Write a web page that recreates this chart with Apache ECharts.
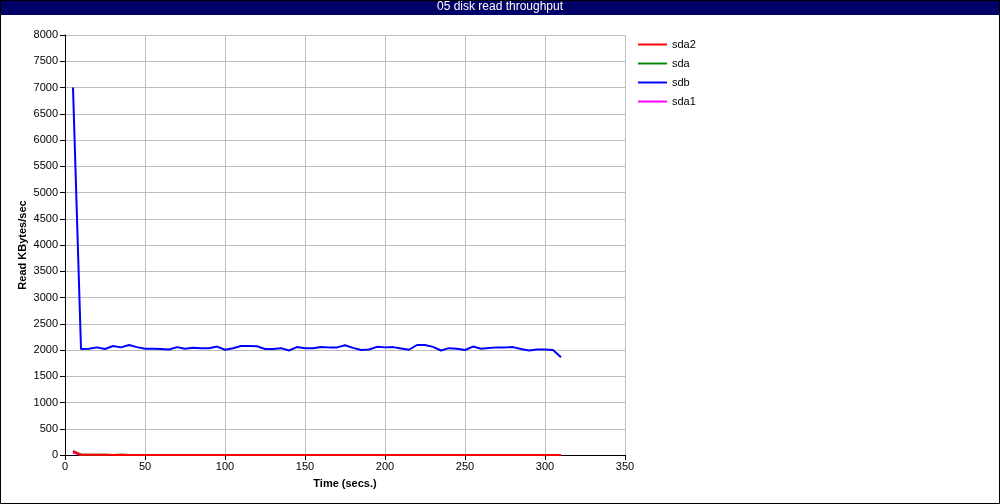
<!DOCTYPE html>
<html>
<head>
<meta charset="utf-8">
<script src="https://cdn.jsdelivr.net/npm/echarts@6/dist/echarts.min.js"></script>
<style>
html,body{margin:0;padding:0;background:#fff;}
#chart{width:1000px;height:504px;}
</style>
</head>
<body>
<div id="chart"></div>
<script>
const chartTitle = "05 disk read throughput";
const xAxisName = "Time (secs.)";
const yAxisName = "Read KBytes/sec";
const seriesNames = ["sda2", "sda", "sdb", "sda1"];
const seriesColors = ["#ff0000", "#008800", "#0000ff", "#ff00ff"];

const times = [5,10,15,20,25,30,35,40,45,50,55,60,65,70,75,80,85,90,95,100,105,110,115,120,125,130,135,140,145,150,155,160,165,170,175,180,185,190,195,200,205,210,215,220,225,230,235,240,245,250,255,260,265,270,275,280,285,290,295,300,305,310];

const sdb = [7000,2020,2025,2050,2020,2075,2050,2095,2055,2025,2025,2020,2010,2055,2025,2045,2035,2035,2065,2005,2035,2075,2075,2070,2020,2020,2035,1990,2055,2035,2035,2055,2050,2050,2090,2040,2000,2010,2060,2050,2055,2030,2005,2095,2095,2060,1990,2035,2025,2000,2065,2025,2040,2050,2050,2055,2020,1990,2010,2010,2000,1860];

const sda2 = [75,5,4,3,3,2,3,2,2,2,2,2,2,2,2,2,2,2,2,2,2,2,2,2,2,2,2,2,2,2,2,2,2,2,2,2,2,2,2,2,2,2,2,2,2,2,2,2,2,2,2,2,2,2,2,2,2,2,2,2,2,2];
const sda = [75,5,4,3,3,2,3,2,2,2,2,2,2,2,2,2,2,2,2,2,2,2,2,2,2,2,2,2,2,2,2,2,2,2,2,2,2,2,2,2,2,2,2,2,2,2,2,2,2,2,2,2,2,2,2,2,2,2,2,2,2,2];
const sda1 = [45,0,0,0,0,0,0,0,0,0,0,0,0,0,0,0,0,0,0,0,0,0,0,0,0,0,0,0,0,0,0,0,0,0,0,0,0,0,0,0,0,0,0,0,0,0,0,0,0,0,0,0,0,0,0,0,0,0,0,0,0,0];

const seriesValues = [sda2, sda, sdb, sda1];
const zOrder = [5, 3, 4, 2];

const chart = echarts.init(document.getElementById('chart'), null, {renderer: 'canvas'});
const font = 'Liberation Sans, Arial, sans-serif';

const option = {
  animation: false,
  backgroundColor: '#ffffff',
  textStyle: {fontFamily: font},
  graphic: [
    {type: 'rect', shape: {x: 0.5, y: 0.5, width: 999, height: 503}, style: {fill: 'none', stroke: '#000', lineWidth: 1}, z: 100},
    {type: 'rect', shape: {x: 0, y: 0, width: 1000, height: 15}, style: {fill: '#000066'}, z: 0}
  ],
  title: {
    text: chartTitle,
    left: 'center',
    top: 0,
    padding: [1, 0, 0, 0],
    textStyle: {color: '#ffffff', fontSize: 12, fontWeight: 'normal', fontFamily: font}
  },
  legend: {
    orient: 'vertical',
    left: 633,
    top: 34,
    itemGap: 8,
    itemWidth: 29,
    itemHeight: 14,
    icon: 'path://M0,6 L30,6 L30,8 L0,8 Z',
    textStyle: {fontSize: 11, color: '#000', fontFamily: font},
    data: seriesNames
  },
  grid: {left: 65, top: 35, width: 560, height: 420, containLabel: false},
  xAxis: {
    type: 'value',
    min: 0, max: 350, interval: 50,
    name: xAxisName,
    nameLocation: 'middle',
    nameGap: 23,
    nameTextStyle: {fontWeight: 'bold', fontSize: 11, color: '#000', fontFamily: font},
    axisLine: {show: true, lineStyle: {color: '#000', width: 1}},
    axisTick: {show: true, inside: false, length: 5, lineStyle: {color: '#000'}},
    axisLabel: {fontSize: 11, color: '#000', margin: 6, fontFamily: font},
    splitLine: {show: true, lineStyle: {color: '#bdbdbd', width: 1}}
  },
  yAxis: {
    type: 'value',
    min: 0, max: 8000, interval: 500,
    name: yAxisName,
    nameLocation: 'middle',
    nameGap: 37,
    nameMoveOverlap: false,
    nameRotate: 90,
    nameTextStyle: {fontWeight: 'bold', fontSize: 11, color: '#000', fontFamily: font},
    axisLine: {show: true, lineStyle: {color: '#000', width: 1}},
    axisTick: {show: true, inside: false, length: 5, lineStyle: {color: '#000'}},
    axisLabel: {fontSize: 11, color: '#000', margin: 7, fontFamily: font, formatter: v => String(v)},
    splitLine: {show: true, lineStyle: {color: '#bdbdbd', width: 1}}
  },
  series: seriesNames.map((name, i) => ({
    name: name,
    type: 'line',
    data: times.map((t, j) => [t, seriesValues[i][j]]),
    showSymbol: false,
    symbol: 'none',
    z: zOrder[i],
    lineStyle: {color: seriesColors[i], width: 2},
    itemStyle: {color: seriesColors[i]}
  }))
};
chart.setOption(option);
</script>
</body>
</html>
